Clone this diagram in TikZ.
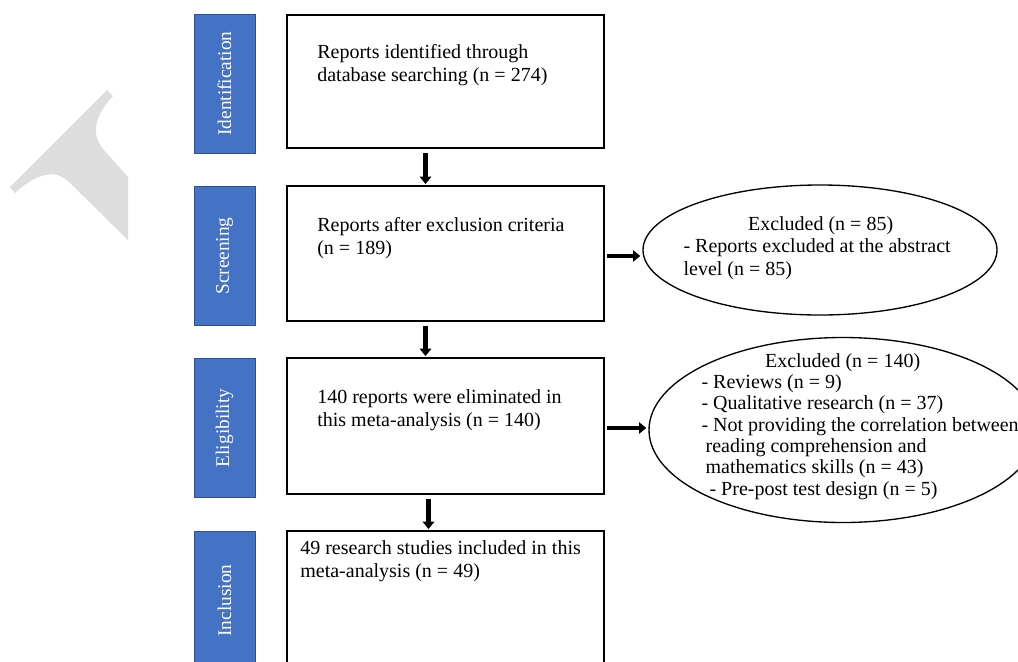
\documentclass[tikz,border=0pt]{standalone}
\usepackage{fontspec}
\setmainfont{Liberation Serif}
\usetikzlibrary{positioning, calc, shapes.geometric, arrows.meta}

\begin{document}
\begin{tikzpicture}[x=0.75pt, y=-0.75pt,
        stage/.style={draw=stageborder, fill=stageblue, rotate=90, text=white, inner sep=0pt,
            minimum width=104.25pt, minimum height=45.75pt, font=\fontsize{14.5}{17}\selectfont},
        stepbox/.style={draw, line width=1.4pt, minimum width=237.75pt, inner sep=0pt},
        boxtext/.style={anchor=north west, align=left, inner sep=0pt, font=\fontsize{15}{17.25}\selectfont},
        excl/.style={draw, ellipse, line width=1pt, inner sep=0pt},
        flow/.style={line width=3.4pt, -{Triangle[width=8.5pt, length=5.5pt]}}]
        % Colours
        \definecolor{stageblue}{RGB}{68, 114, 196}
        \definecolor{stageborder}{RGB}{47, 82, 143}
        \definecolor{wmgray}{RGB}{221, 221, 221}

        \useasboundingbox (0,0) rectangle (1018,661);

        % Watermark piece on the left
        \fill[wmgray] (10,187) -- (107,90) -- (113,96) .. controls (92,118) and (92,137) .. (104,150)
            -- (128,177) -- (128,240) -- (70,183) .. controls (60,172) and (42,168) .. (15,193) -- cycle;

        % 1. Stage bars
        \node[stage] (ident) at (224.5,83.5) {Identification};
        \node[stage] (screen) at (224.5,256) {Screening};
        \node[stage] (elig) at (224.5,428) {Eligibility};
        \node[stage] (incl) at (224.5,600.5) {Inclusion};

        % 2. Boxes and their texts
        \node[stepbox, minimum height=99.75pt] (box_ident) at (445.5,81.5) {};
        \node[stepbox, minimum height=101.25pt] (box_screen) at (445.5,253.5) {};
        \node[stepbox, minimum height=102pt] (box_elig) at (445.5,426) {};
        \node[stepbox, minimum height=103.5pt] (box_incl) at (445.5,600) {};

        \node[boxtext] (txt_ident) at ($(box_ident.north west)+(31,30)$)
            {Reports identified through\\database searching (n = 274)};
        \node[boxtext] (txt_screen) at ($(box_screen.north west)+(31,32)$)
            {Reports after exclusion criteria\\(n = 189)};
        \node[boxtext] (txt_elig) at ($(box_elig.north west)+(31,32)$)
            {140 reports were eliminated in\\this meta-analysis (n = 140)};
        \node[boxtext] (txt_incl) at ($(box_incl.north west)+(14,10)$)
            {49 research studies included in this\\meta-analysis (n = 49)};

        % 3. Exclusion ellipses
        \node[excl, minimum width=265.5pt, minimum height=97.5pt] (excl_screen) at (820,250) {};
        \node[excl, minimum width=291pt, minimum height=138.75pt] (excl_elig) at (843,430) {};

        \node[boxtext, font=\fontsize{15}{16.9}\selectfont] (txt_excl_screen) at ($(excl_screen.west)+(41,-34)$)
            {\makebox[205.5pt]{Excluded (n = 85)}\\- Reports excluded at the abstract\\level (n = 85)};
        \node[boxtext, font=\fontsize{15}{16}\selectfont] (txt_excl_elig) at ($(excl_elig.west)+(53,-77)$)
            {\makebox[211.5pt]{Excluded (n = 140)}\\- Reviews (n = 9)\\- Qualitative research (n = 37)\\
             - Not providing the correlation between\\\hspace*{3pt}reading comprehension and\\
             \hspace*{3pt}mathematics skills (n = 43)\\\hspace*{6pt}- Pre-post test design (n = 5)};

        % 4. Arrows
        \draw[flow] ($(box_ident.south)+(-20,4)$) -- ($(box_screen.north)+(-20,-1)$);
        \draw[flow] ($(box_screen.south)+(-20,4)$) -- ($(box_elig.north)+(-20,-1)$);
        \draw[flow] ($(box_elig.south)+(-17,4)$) -- ($(box_incl.north)+(-17,-1)$);
        \draw[flow] ($(box_screen.east)+(2,2.5)$) -- ($(excl_screen.west)+(-2,6)$);
        \draw[flow] ($(box_elig.east)+(2,2)$) -- ($(excl_elig.west)+(-2,-2)$);

    \end{tikzpicture}
\end{document}
